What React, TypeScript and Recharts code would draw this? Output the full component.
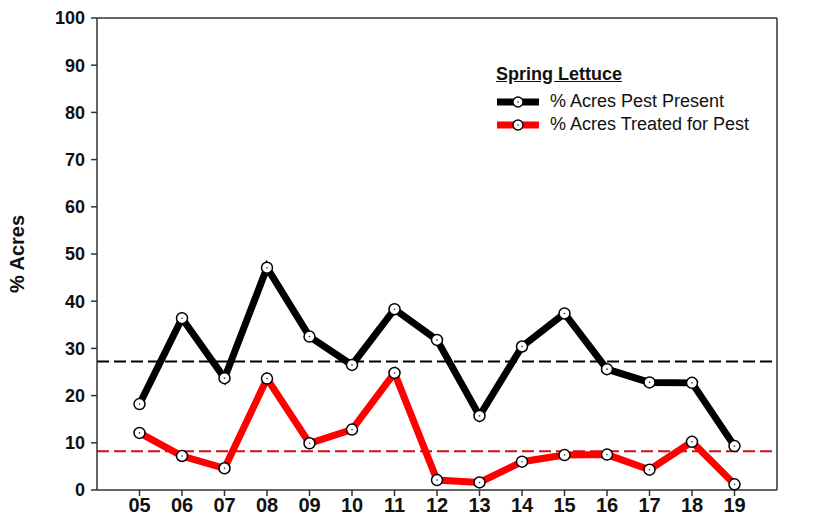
import React from 'react'
import { LineChart, Line, XAxis, YAxis, ReferenceLine } from 'recharts'

const years = [5, 6, 7, 8, 9, 10, 11, 12, 13, 14, 15, 16, 17, 18, 19]
const pestPresent = [18.2, 36.4, 23.7, 47.1, 32.5, 26.5, 38.3, 31.8, 15.7, 30.4, 37.4, 25.6, 22.8, 22.7, 9.3]
const treated = [12.1, 7.2, 4.6, 23.6, 9.9, 12.8, 24.8, 2.1, 1.6, 6.0, 7.4, 7.5, 4.3, 10.2, 1.2]
const yTicks = [0, 10, 20, 30, 40, 50, 60, 70, 80, 90, 100]
const presentAvg = 27.2
const treatedAvg = 8.2

const data = years.map((yr, i) => ({
  year: yr,
  present: pestPresent[i],
  treated: treated[i]
}))

const font = 'Arial, "Liberation Sans", sans-serif'

// open circle with a tiny center dot, like the original markers
const Marker = (props: any) => {
  const { cx, cy, index } = props
  if (cx == null || cy == null) return null
  return (
    <g key={index}>
      <circle cx={cx} cy={cy} r={5.5} fill="#fff" stroke="#000" strokeWidth={1.5} />
      <circle cx={cx} cy={cy} r={0.8} fill="#333" />
    </g>
  )
}

const LegendBox = () => {
  const items = [
    { label: '% Acres Pest Present', color: '#000' },
    { label: '% Acres Treated for Pest', color: '#ff0000' }
  ]
  return (
    <div style={{ position: 'absolute', left: 496, top: 64, fontFamily: font, color: '#111' }}>
      <div style={{ fontWeight: 'bold', fontSize: 18, textDecoration: 'underline', marginBottom: 5, lineHeight: '21px' }}>
        Spring Lettuce
      </div>
      {items.map((it) => (
        <div key={it.label} style={{ display: 'flex', alignItems: 'center', height: 23 }}>
          <svg width={44} height={14} style={{ marginRight: 10 }}>
            <line x1={1} y1={7} x2={43} y2={7} stroke={it.color} strokeWidth={7} />
            <circle cx={22} cy={7} r={5} fill="#fff" stroke="#000" strokeWidth={1.3} />
            <circle cx={22} cy={7} r={0.8} fill="#333" />
          </svg>
          <span style={{ fontSize: 18 }}>{it.label}</span>
        </div>
      ))}
    </div>
  )
}

export default function App() {
  return (
    <div style={{ position: 'absolute', left: 0, top: 0, width: 826, height: 525, background: '#fff' }}>
      <LineChart width={826} height={525} data={data} margin={{ top: 18, right: 0, bottom: 0, left: 0 }}>
        <XAxis
          dataKey="year"
          type="number"
          domain={[4, 20]}
          ticks={years}
          tickFormatter={(v) => String(v).padStart(2, '0')}
          height={35}
          stroke="#333"
          strokeWidth={1.5}
          tickSize={6}
          tick={{ fill: '#111', fontSize: 20, fontWeight: 'bold', fontFamily: font }}
          interval={0}
        />
        <YAxis
          yAxisId="left"
          domain={[0, 100]}
          ticks={yTicks}
          width={97}
          stroke="#333"
          strokeWidth={1.5}
          tickSize={6}
          tickMargin={6}
          tick={{ fill: '#111', fontSize: 18, fontWeight: 'bold', fontFamily: font }}
          label={{
            value: '% Acres',
            angle: -90,
            position: 'insideLeft',
            dx: 12,
            style: { fill: '#111', fontSize: 20, fontWeight: 'bold', fontFamily: font, textAnchor: 'middle' }
          }}
        />
        <YAxis
          yAxisId="right"
          orientation="right"
          domain={[0, 100]}
          ticks={yTicks}
          width={49}
          stroke="#333"
          strokeWidth={1.5}
          tickSize={6}
          tickMargin={5}
          tick={{ fill: '#111', fontSize: 18, fontWeight: 'bold', fontFamily: font }}
        />
        <ReferenceLine yAxisId="left" y={100} stroke="#333" strokeWidth={1.5} />
        <ReferenceLine yAxisId="left" y={presentAvg} stroke="#000" strokeWidth={2} strokeDasharray="12 5" />
        <ReferenceLine yAxisId="left" y={treatedAvg} stroke="#d01010" strokeWidth={2} strokeDasharray="12 5" />
        <Line
          yAxisId="left"
          dataKey="present"
          stroke="#000"
          strokeWidth={7}
          strokeLinejoin="miter"
          dot={<Marker />}
          activeDot={false}
          isAnimationActive={false}
        />
        <Line
          yAxisId="left"
          dataKey="treated"
          stroke="#ff0000"
          strokeWidth={7}
          strokeLinejoin="miter"
          dot={<Marker />}
          activeDot={false}
          isAnimationActive={false}
        />
      </LineChart>
      <LegendBox />
    </div>
  )
}
